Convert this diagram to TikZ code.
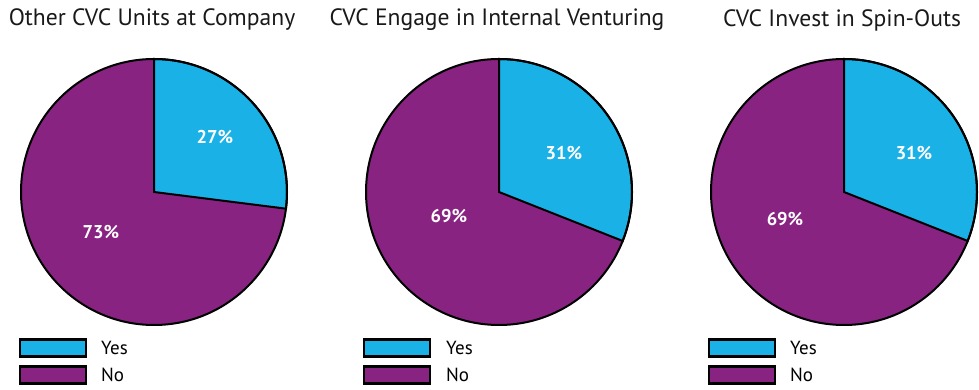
\documentclass[tikz,border=0pt]{standalone}
\usepackage{fontspec}
\setmainfont{PT Sans}
\definecolor{yescol}{RGB}{26,177,230}
\definecolor{nocol}{RGB}{137,35,130}
\begin{document}
\begin{tikzpicture}[x=1pt,y=1pt,
  slice/.style={draw=black,line width=2pt,line join=miter},
  title/.style={font=\fontsize{23.6}{26}\selectfont,text=black!90,inner sep=0pt},
  pct/.style={font=\fontsize{18.5}{20}\selectfont\bfseries,text=white,inner sep=0pt},
  legbox/.style={draw=black,line width=2.4pt,minimum width=66pt,minimum height=17pt,inner sep=0pt},
  legtext/.style={font=\fontsize{19}{22}\selectfont,anchor=west,inner sep=0pt}]
\useasboundingbox (0,0) rectangle (979,390);
\def\R{133}
% pie 1
\coordinate (c1) at (154,198);
\fill[nocol] (c1) circle[radius=\R];
\filldraw[slice,fill=yescol] (c1) -- ++(90:\R) arc[start angle=90,end angle=-7.2,radius=\R] -- cycle;
\draw[slice] (c1) circle[radius=\R];
\node[title] (t1) at (152,370) {Other CVC Units at Company};
\node[pct] (p1a) at (215,253) {27\%};
\node[pct] (p1b) at (101,158) {73\%};
\node[legbox,fill=yescol] (ly1) at (53,42) {};
\node[legbox,fill=nocol] (ln1) at (53,15) {};
\node[legtext] (lty1) at (101,42) {Yes};
\node[legtext] (ltn1) at (101,15) {No};
% pie 2
\coordinate (c2) at (499,198);
\fill[nocol] (c2) circle[radius=\R];
\filldraw[slice,fill=yescol] (c2) -- ++(90:\R) arc[start angle=90,end angle=-21.6,radius=\R] -- cycle;
\draw[slice] (c2) circle[radius=\R];
\node[title] (t2) at (497,370) {CVC Engage in Internal Venturing};
\node[pct] (p2a) at (564,237) {31\%};
\node[pct] (p2b) at (449,174) {69\%};
\node[legbox,fill=yescol] (ly2) at (397,42) {};
\node[legbox,fill=nocol] (ln2) at (397,15) {};
\node[legtext] (lty2) at (446,42) {Yes};
\node[legtext] (ltn2) at (446,15) {No};
% pie 3
\coordinate (c3) at (844,198);
\fill[nocol] (c3) circle[radius=\R];
\filldraw[slice,fill=yescol] (c3) -- ++(90:\R) arc[start angle=90,end angle=-21.6,radius=\R] -- cycle;
\draw[slice] (c3) circle[radius=\R];
\node[title] (t3) at (842,370) {CVC Invest in Spin-Outs};
\node[pct] (p3a) at (914,237) {31\%};
\node[pct] (p3b) at (785,171) {69\%};
\node[legbox,fill=yescol] (ly3) at (742,42) {};
\node[legbox,fill=nocol] (ln3) at (742,15) {};
\node[legtext] (lty3) at (790,42) {Yes};
\node[legtext] (ltn3) at (790,15) {No};
\end{tikzpicture}
\end{document}
